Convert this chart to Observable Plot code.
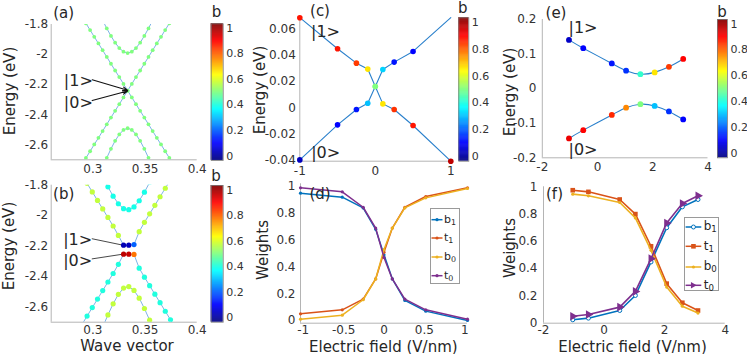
<!DOCTYPE html>
<html><head><meta charset="utf-8">
<script src="https://cdn.jsdelivr.net/npm/d3@7"></script>
<script src="https://cdn.jsdelivr.net/npm/@observablehq/plot@0.6"></script>
<style>
html,body{margin:0;padding:0;background:#fff;}
#fig{position:relative;width:747px;height:354px;overflow:hidden;font-family:"DejaVu Sans","Liberation Sans",sans-serif;color:#262626;background:#fff;}
.t{position:absolute;white-space:nowrap;line-height:1;}
.lg{position:absolute;border:1px solid #9a9a9a;background:#fff;box-sizing:border-box;}
.lg span{position:absolute;white-space:nowrap;line-height:1;color:#262626;}
.lg sub{font-size:0.72em;vertical-align:-0.25em;line-height:1;}
</style></head><body><div id="fig"></div>
<script>
// ================= DATA =================
// colour limits of the "b" colour bars and their ticks
const cLim = [-0.035, 1.035];
const cbTicks = [0, 0.2, 0.4, 0.6, 0.8, 1];

// ---- panel (a): band structure, wave vector vs energy ----
const kA = [0.2893,0.2933,0.2973,0.3013,0.3053,0.3093,0.3133,0.3173,0.3213,0.3253,0.3293,0.3333,0.3373,0.3413,0.3453,0.3493,0.3533,0.3573,0.3613,0.3653,0.3693,0.3733,0.3773];
const eA_desc  = [-1.747,-1.792,-1.837,-1.882,-1.926,-1.971,-2.016,-2.061,-2.106,-2.150,-2.195,-2.240,-2.285,-2.330,-2.374,-2.419,-2.464,-2.509,-2.554,-2.598,-2.643,-2.688,-2.733];
const eA_asc   = [-2.733,-2.688,-2.643,-2.598,-2.554,-2.509,-2.464,-2.419,-2.374,-2.330,-2.285,-2.240,-2.195,-2.150,-2.106,-2.061,-2.016,-1.971,-1.926,-1.882,-1.837,-1.792,-1.747];
const eA_upper = [null,null,null,null,null,-1.772,-1.826,-1.876,-1.921,-1.957,-1.981,-1.990,-1.981,-1.957,-1.921,-1.876,-1.826,-1.772,null,null,null,null,null];
const eA_lower = [null,null,null,null,null,-2.750,-2.687,-2.627,-2.574,-2.531,-2.501,-2.490,-2.501,-2.531,-2.574,-2.627,-2.687,-2.750,null,null,null,null,null];
const bA = [0.5, 0.5, 0.5, 0.5]; // desc, asc, upper, lower

// ---- panel (b): band structure with gap ----
const kB = [0.2894,0.2944,0.2994,0.3044,0.3094,0.3144,0.3194,0.3244,0.3294,0.3344,0.3394,0.3444,0.3494,0.3544,0.3594,0.3644,0.3694,0.3744,0.3794];
const eB_up    = [-1.732,-1.788,-1.844,-1.900,-1.956,-2.012,-2.068,-2.130,-2.194,-2.194,-2.190,-2.105,-2.044,-1.988,-1.932,-1.876,-1.820,-1.764,-1.708];
const bB_up    = [0.57,0.57,0.57,0.57,0.57,0.57,0.57,0.57,0.02,0.03,0.2,0.57,0.57,0.57,0.57,0.57,0.57,0.57,0.57];
const eB_lo    = [-2.716,-2.660,-2.604,-2.548,-2.492,-2.436,-2.380,-2.320,-2.253,-2.253,-2.255,-2.345,-2.404,-2.460,-2.516,-2.572,-2.628,-2.684,-2.740];
const bB_lo    = [0.4,0.4,0.4,0.4,0.4,0.4,0.4,0.4,0.97,0.96,0.78,0.4,0.4,0.4,0.4,0.4,0.4,0.4,0.4];
const eB_upper = [null,null,null,null,-1.743,-1.811,-1.872,-1.922,-1.954,-1.961,-1.943,-1.902,-1.846,-1.782,null,null,null,null,null];
const eB_lower = [null,null,null,null,-2.732,-2.652,-2.579,-2.517,-2.476,-2.466,-2.491,-2.542,-2.610,-2.687,-2.770,null,null,null,null];
const bB_bands = [0.39, 0.57]; // upper, lower

// ---- panel (c): energies of |1> and |0> vs field ----
const fieldC = [-1, -0.5, -0.25, -0.1, 0, 0.1, 0.25, 0.5, 1];
const eC1 = [0.0684, 0.0448, 0.0339, 0.0294, 0.0162, 0.0030, -0.0013, -0.0134, -0.0405];
const bC1 = [0.88, 0.88, 0.84, 0.66, 0.5, 0.66, 0.85, 0.88, 0.97];
const eC0 = [-0.0395, -0.0129, -0.0013, 0.0035, 0.0162, 0.0291, 0.0347, 0.0428, 0.0684];
const bC0 = [0.03, 0.1, 0.12, 0.3, 0.5, 0.32, 0.12, 0.1, null];

// ---- panel (d): weights vs field ----
const fieldD = [-1.034, -0.517, -0.258, -0.103, 0, 0.103, 0.258, 0.517, 1.034];
const wD_b1 = [0.95, 0.92, 0.84, 0.68, 0.49, 0.31, 0.15, 0.07, 0.0];
const wD_t1 = [0.05, 0.08, 0.16, 0.31, 0.51, 0.69, 0.845, 0.925, 0.99];
const wD_b0 = [0.01, 0.04, 0.155, 0.31, 0.53, 0.69, 0.84, 0.915, 0.985];
const wD_t0 = [0.99, 0.96, 0.845, 0.69, 0.47, 0.31, 0.16, 0.08, 0.01];

// ---- panel (e): energies vs field ----
const fieldE = [-1.034, -0.517, 0.517, 1.034, 1.551, 2.068, 2.585, 3.102];
const eE1 = [0.141, 0.117, 0.073, 0.052, 0.042, 0.047, 0.063, 0.086];
const bE1 = [0.04, 0.1, 0.12, 0.15, 0.42, 0.66, 0.84, 0.9];
const eE0 = [-0.144, -0.120, -0.076, -0.055, -0.045, -0.050, -0.066, -0.089];
const bE0 = [0.92, 0.9, 0.86, 0.76, 0.5, 0.3, 0.15, 0.1];

// ---- panel (f): weights vs field ----
const fieldF = [-1.034, -0.517, 0.517, 1.034, 1.551, 2.068, 2.585, 3.102];
const wF_b1 = [0.025, 0.037, 0.093, 0.203, 0.449, 0.700, 0.853, 0.907];
const wF_t1 = [0.975, 0.963, 0.907, 0.800, 0.564, 0.290, 0.150, 0.093];
const wF_b0 = [0.946, 0.934, 0.885, 0.772, 0.534, 0.265, 0.125, 0.074];
const wF_t0 = [0.051, 0.064, 0.118, 0.233, 0.473, 0.735, 0.877, 0.934];

// legend names and series colours
const seriesNames = [["b","1"],["t","1"],["b","0"],["t","0"]];
const seriesColors = ["#0072BD", "#D95319", "#EDB120", "#7E2F8E"];

// annotation arrows (data coordinates)
const arrowsA = [{x1:0.2993, y1:-2.168, x2:0.3333, y2:-2.238}, {x1:0.2993, y1:-2.306, x2:0.3333, y2:-2.242}];
const arrowsB = [{x1:0.2993, y1:-2.152, x2:0.3288, y2:-2.194}, {x1:0.2993, y1:-2.284, x2:0.3288, y2:-2.253}];

// ================= DRAWING =================
const W = 747, H = 354;
const FONT = '"DejaVu Sans","Liberation Sans",sans-serif';
const AXIS = "#b4b4b4";
const fig = document.getElementById("fig");

function jet(t) {
  const c = v => Math.max(0, Math.min(1, v));
  const r = c(1.5 - Math.abs(4 * t - 3)), g = c(1.5 - Math.abs(4 * t - 2)), b = c(1.5 - Math.abs(4 * t - 1));
  return `rgb(${Math.round(r * 255)},${Math.round(g * 255)},${Math.round(b * 255)})`;
}
const colorOpts = {type: "linear", domain: cLim, interpolate: jet};
const fmt = d => String(d);

const zip = (xs, ys, bs) => xs.map((x, i) => ({x, y: ys[i], b: Array.isArray(bs) ? bs[i] : bs})).filter(d => d.y != null);

function place(el) {
  el.style.position = "absolute"; el.style.left = "0px"; el.style.top = "0px";
  fig.appendChild(el);
}

function panel(f, xo, yo, marks, useColor) {
  const opts = {
    width: W, height: H,
    marginLeft: f.l, marginRight: W - f.r, marginTop: f.t, marginBottom: H - f.b,
    style: {background: "transparent", fontFamily: FONT, fontSize: "12px", color: "#333", overflow: "visible"},
    x: {domain: xo.domain, ticks: xo.ticks, tickFormat: fmt, tickSize: 0, tickPadding: xo.pad ?? 5, label: null},
    y: {domain: yo.domain, ticks: yo.ticks, tickFormat: fmt, tickSize: 0, tickPadding: yo.pad ?? 3, label: null},
    marks: [Plot.ruleX([xo.domain[0]], {stroke: AXIS}), Plot.ruleY([yo.domain[0]], {stroke: AXIS}), ...marks]
  };
  if (useColor) opts.color = colorOpts;
  place(Plot.plot(opts));
}

function colorbar(f) {
  const step = 0.004;
  const strips = d3.range(cLim[0], cLim[1], step);
  place(Plot.plot({
    width: W, height: H,
    marginLeft: f.l, marginRight: W - f.r, marginTop: f.t, marginBottom: H - f.b,
    style: {background: "transparent", fontFamily: FONT, fontSize: "11px", color: "#333", overflow: "visible"},
    x: {domain: [0, 1], axis: null},
    y: {domain: cLim, ticks: cbTicks, tickFormat: fmt, tickSize: 0, tickPadding: 3, axis: "right", label: null},
    color: colorOpts,
    marks: [
      Plot.rect(strips, {x1: 0, x2: 1, y1: d => d, y2: d => Math.min(cLim[1], d + step * 1.6), fill: d => d + step / 2}),
      Plot.frame({stroke: "#7a7a7a", strokeWidth: 0.8})
    ]
  }));
}

const bandLine = "#7db3e6";
const energyLine = "#2a80cc";

// ---- (a)
{
  const bands = [zip(kA, eA_desc, bA[0]), zip(kA, eA_asc, bA[1]), zip(kA, eA_upper, bA[2]), zip(kA, eA_lower, bA[3])];
  panel({l: 50.7, r: 196.7, t: 24, b: 159.3},
    {domain: [0.26, 0.4], ticks: [0.3, 0.35, 0.4], pad: 5},
    {domain: [-2.7, -1.8], ticks: [-2.6, -2.4, -2.2, -2, -1.8], pad: 3},
    [
      ...bands.map(d => Plot.line(d, {x: "x", y: "y", stroke: bandLine, strokeWidth: 1, clip: true})),
      ...bands.map(d => Plot.dot(d, {x: "x", y: "y", fill: "b", r: 1.9, clip: true})),
      Plot.arrow(arrowsA, {x1: "x1", y1: "y1", x2: "x2", y2: "y2", stroke: "#111", strokeWidth: 1.1, headLength: 7, headAngle: 45})
    ], true);
  colorbar({l: 210.7, r: 222.7, t: 23.3, b: 160});
}
// ---- (b)
{
  const lines = [zip(kB, eB_up, bB_up), zip(kB, eB_lo, bB_lo), zip(kB, eB_upper, bB_bands[0]), zip(kB, eB_lower, bB_bands[1])];
  panel({l: 50.7, r: 196.7, t: 184.7, b: 321.7},
    {domain: [0.26, 0.4], ticks: [0.3, 0.35, 0.4], pad: 3},
    {domain: [-2.7, -1.8], ticks: [-2.6, -2.4, -2.2, -2, -1.8], pad: 3},
    [
      ...lines.map(d => Plot.line(d, {x: "x", y: "y", stroke: bandLine, strokeWidth: 1, clip: true})),
      Plot.arrow(arrowsB, {x1: "x1", y1: "y1", x2: "x2", y2: "y2", stroke: "#333", strokeWidth: 0.9, headLength: 0}),
      ...lines.map(d => Plot.dot(d, {x: "x", y: "y", fill: "b", r: 2.6, clip: true}))
    ], true);
  colorbar({l: 210.7, r: 222.7, t: 185, b: 321.7});
}
// ---- (c)
{
  const s1 = zip(fieldC, eC1, bC1), s0 = zip(fieldC, eC0, bC0);
  panel({l: 299.3, r: 450.3, t: 17.2, b: 160.7},
    {domain: [-1, 1], ticks: [-1, 0, 1], pad: 5},
    {domain: [-0.0405, 0.0684], ticks: [-0.04, -0.02, 0, 0.02, 0.04, 0.06], pad: 4},
    [
      Plot.line(s1, {x: "x", y: "y", stroke: energyLine, strokeWidth: 1.1}),
      Plot.line(s0, {x: "x", y: "y", stroke: energyLine, strokeWidth: 1.1}),
      Plot.dot(s1.filter(d => d.b != null), {x: "x", y: "y", fill: "b", r: 2.8}),
      Plot.dot(s0.filter(d => d.b != null), {x: "x", y: "y", fill: "b", r: 2.8})
    ], true);
  colorbar({l: 458.3, r: 468.3, t: 17.3, b: 160.7});
}
// ---- (e)
{
  const s1 = zip(fieldE, eE1, bE1), s0 = zip(fieldE, eE0, bE0);
  panel({l: 541.8, r: 707.5, t: 19, b: 157.3},
    {domain: [-2, 4], ticks: [-2, 0, 2, 4], pad: 5},
    {domain: [-0.2, 0.2], ticks: [-0.2, -0.1, 0, 0.1, 0.2], pad: 6},
    [
      Plot.line(s1, {x: "x", y: "y", stroke: energyLine, strokeWidth: 1.1, curve: "natural"}),
      Plot.line(s0, {x: "x", y: "y", stroke: energyLine, strokeWidth: 1.1, curve: "natural"}),
      Plot.dot(s1, {x: "x", y: "y", fill: "b", r: 2.9}),
      Plot.dot(s0, {x: "x", y: "y", fill: "b", r: 2.9})
    ], true);
  colorbar({l: 717, r: 727, t: 19, b: 157.3});
}
// ---- (d)
{
  const ser = [wD_b1, wD_t1, wD_b0, wD_t0].map(w => zip(fieldD, w, 0));
  const marks = [];
  ser.forEach((d, i) => {
    marks.push(Plot.line(d, {x: "x", y: "y", stroke: seriesColors[i], strokeWidth: 1.5}));
    marks.push(Plot.dot(d, {x: "x", y: "y", fill: seriesColors[i], r: 1.6}));
  });
  panel({l: 300, r: 467, t: 183.3, b: 322.7},
    {domain: [-1.034, 1.034], ticks: [-1, -0.5, 0, 0.5, 1], pad: 2},
    {domain: [-0.02, 1.02], ticks: [0, 0.2, 0.4, 0.6, 0.8, 1], pad: 5},
    marks, false);
}
// ---- (f)
{
  const ser = [wF_b1, wF_t1, wF_b0, wF_t0].map(w => zip(fieldF, w, 0));
  const sym = [
    {symbol: "circle", r: 2, fill: "white"},
    {symbol: "square", r: 2.6},
    {symbol: "circle", r: 1.6},
    {symbol: "triangle", r: 3.2, rotate: 90}
  ];
  const marks = [];
  ser.forEach((d, i) => {
    marks.push(Plot.line(d, {x: "x", y: "y", stroke: seriesColors[i], strokeWidth: 1.6}));
    const s = sym[i];
    const o = {x: "x", y: "y", symbol: s.symbol, r: s.r};
    if (s.fill) { o.fill = s.fill; o.stroke = seriesColors[i]; o.strokeWidth = 1; } else { o.fill = seriesColors[i]; }
    if (s.rotate) o.rotate = s.rotate;
    marks.push(Plot.dot(d, o));
  });
  panel({l: 543, r: 724.7, t: 186.3, b: 322.7},
    {domain: [-2, 4], ticks: [-2, 0, 2, 4], pad: 2},
    {domain: [0, 1], ticks: [0, 0.2, 0.4, 0.6, 0.8, 1], pad: 6},
    marks, false);
}

// ================= TEXT =================
function txt(s, cx, cy, size, rot) {
  const d = document.createElement("div");
  d.className = "t";
  d.textContent = s;
  d.style.fontSize = size + "px";
  d.style.left = cx + "px";
  d.style.top = cy + "px";
  d.style.transform = `translate(-50%,-50%)` + (rot ? ` rotate(${rot}deg)` : "");
  fig.appendChild(d);
}
// panel letters
[["(a)",63.7,13],["(b)",63.7,194],["(c)",320,11],["(d)",320,194],["(e)",556,12.5],["(f)",554.5,194]]
  .forEach(([s,x,y]) => txt(s, x, y, 15));
// state labels
[["|1>",78.3,81],["|0>",78.3,103],["|1>",77.7,239.7],["|0>",77.7,261],["|1>",325.5,32],["|0>",325.7,153],["|1>",583,28.3],["|0>",583,150]]
  .forEach(([s,x,y]) => txt(s, x, y, 16));
// colour bar titles
[[216.5,12],[216,176],[462.7,8],[722,11.7]].forEach(([x,y]) => txt("b", x, y, 15));
// axis titles
[["Energy (eV)",9.7,90.8],["Energy (eV)",8.5,246],["Energy (eV)",260,90],["Energy (eV)",510.3,91.7],["Weights",263.3,250],["Weights",510.3,248.3]]
  .forEach(([s,x,y]) => txt(s, x, y, 15, -90));
[["Wave vector",127,346],["Electric field (V/nm)",383.3,346.5],["Electric field (V/nm)",632.5,346.5]]
  .forEach(([s,x,y]) => txt(s, x, y, 15));

// ================= LEGENDS =================
function legend(box, rowsY, lineX, textX, fontSize, markerSvg) {
  const d = document.createElement("div");
  d.className = "lg";
  d.style.left = box.l + "px"; d.style.top = box.t + "px";
  d.style.width = box.w + "px"; d.style.height = box.h + "px";
  let svg = `<svg width="${box.w}" height="${box.h}" style="position:absolute;left:-1px;top:-1px;overflow:visible">`;
  rowsY.forEach((y, i) => {
    svg += `<line x1="${lineX[0]}" x2="${lineX[1]}" y1="${y}" y2="${y}" stroke="${seriesColors[i]}" stroke-width="1.5"/>`;
    svg += markerSvg(i, (lineX[0] + lineX[1]) / 2, y);
  });
  svg += `</svg>`;
  let html = svg;
  rowsY.forEach((y, i) => {
    html += `<span style="left:${textX}px;top:${y - fontSize * 0.62}px;font-size:${fontSize}px">${seriesNames[i][0]}<sub>${seriesNames[i][1]}</sub></span>`;
  });
  d.innerHTML = html;
  fig.appendChild(d);
}
legend({l: 430, t: 208.3, w: 29.5, h: 76}, [11.7, 30, 49, 67.7], [1.5, 12.5], 13, 11,
  (i, x, y) => `<circle cx="${x}" cy="${y}" r="1.6" fill="${seriesColors[i]}"/>`);
legend({l: 683.7, t: 216.7, w: 35, h: 74}, [10, 29.3, 50, 68.3], [1.6, 17.3], 19, 12,
  (i, x, y) => {
    const c = seriesColors[i];
    if (i === 0) return `<circle cx="${x}" cy="${y}" r="2" fill="white" stroke="${c}"/>`;
    if (i === 1) return `<rect x="${x-2.3}" y="${y-2.3}" width="4.6" height="4.6" fill="${c}"/>`;
    if (i === 2) return `<circle cx="${x}" cy="${y}" r="1.6" fill="${c}"/>`;
    return `<path d="M${x-2.5},${y-3.2}L${x+3.2},${y}L${x-2.5},${y+3.2}Z" fill="${c}"/>`;
  });
</script></body></html>
